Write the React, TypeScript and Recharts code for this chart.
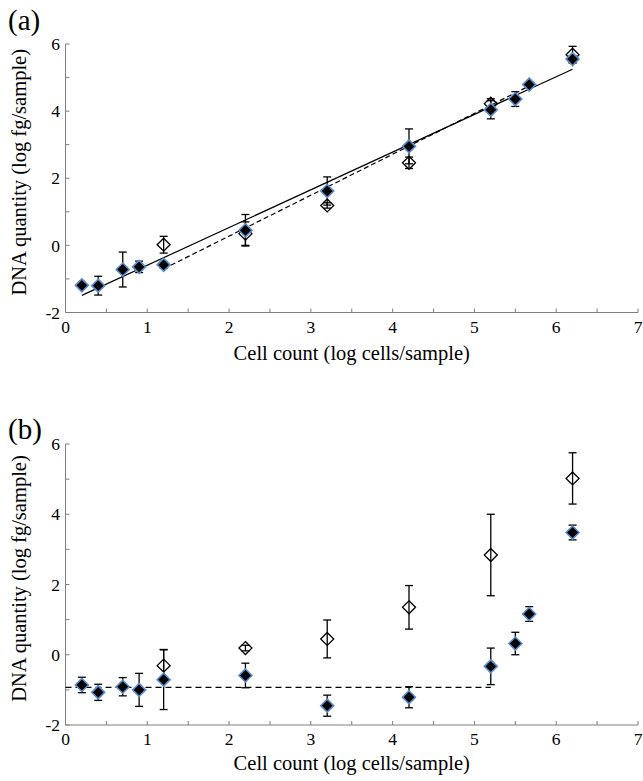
import { ScatterChart, Scatter, XAxis, YAxis, ErrorBar, Label } from "recharts";

// ── Data ──────────────────────────────────────────────────────────────────────
// x positions (log cells/sample)
const filledX = [0.2, 0.4, 0.7, 0.9, 1.2, 2.2, 3.2, 4.2, 5.2, 5.5, 5.67, 6.2];
const openX = [1.2, 2.2, 3.2, 4.2, 5.2, 6.2];

// panel (a)
const aFilledY = [-1.19, -1.2, -0.72, -0.64, -0.58, 0.45, 1.62, 2.95, 4.04, 4.36, 4.79, 5.55];
const aFilledErr = [0, 0.28, 0.52, 0.17, 0.1, 0.47, 0.42, 0.52, 0.27, 0.22, 0.08, 0.1];
const aOpenY = [0.02, 0.35, 1.19, 2.46, 4.22, 5.68];
const aOpenErr = [0.25, 0.35, 0.08, 0.17, 0.15, 0.25];
const aFitSolid = [
    { x: 0.2, y: -1.49 },
    { x: 6.2, y: 5.25 },
];
const aFitDashed = [
    { x: 1.2, y: -0.7 },
    { x: 5.67, y: 4.75 },
];

// panel (b)
const bFilledY = [-0.86, -1.07, -0.91, -1.0, -0.71, -0.59, -1.45, -1.21, -0.33, 0.32, 1.16, 3.48];
const bFilledErr = [0.22, 0.23, 0.26, 0.47, 0.85, 0.35, 0.3, 0.3, 0.52, 0.32, 0.21, 0.21];
const bOpenY = [-0.31, 0.19, 0.45, 1.35, 2.84, 5.02];
const bOpenErr = [0.46, 0.08, 0.54, 0.62, 1.16, 0.73];
const bBaseline = [
    { x: 0, y: -0.93 },
    { x: 5.2, y: -0.93 },
];

// axes
const xTicks = [0, 0.5, 1, 1.5, 2, 2.5, 3, 3.5, 4, 4.5, 5, 5.5, 6, 6.5, 7];
const yTicks = [-2, -1, 0, 1, 2, 3, 4, 5, 6];
const xLabel = "Cell count (log cells/sample)";
const yLabel = "DNA quantity (log fg/sample)";

// ── Styles ────────────────────────────────────────────────────────────────────
const serif = "Liberation Serif, DejaVu Serif, serif";
const axisGray = "#7f7f7f";
const outlineBlue = "#5a8dcc";

const toPoints = (xs: number[], ys: number[], errs: number[]) =>
    xs.map((x, i) => ({ x, y: ys[i], e: errs[i] }));

function FilledDiamond({ cx, cy }: any) {
    const r = 6.5;
    return (
        <path
            d={`M${cx},${cy - r}L${cx + r},${cy}L${cx},${cy + r}L${cx - r},${cy}Z`}
            fill="#000"
            stroke={outlineBlue}
            strokeWidth={1.6}
        />
    );
}

function OpenDiamond({ cx, cy }: any) {
    const r = 6.5;
    return (
        <path
            d={`M${cx},${cy - r}L${cx + r},${cy}L${cx},${cy + r}L${cx - r},${cy}Z`}
            fill="none"
            stroke="#000"
            strokeWidth={1.3}
        />
    );
}

const NoDot = () => <g />;

type Fit = { data: { x: number; y: number }[]; dash?: string };

function Panel({
    height,
    bottom,
    labelOffset,
    tickGap,
    filled,
    open,
    fits,
}: {
    height: number;
    bottom: number;
    labelOffset: number;
    tickGap: number;
    filled: { x: number; y: number; e: number }[];
    open: { x: number; y: number; e: number }[];
    fits: Fit[];
}) {
    return (
        <ScatterChart
            width={643}
            height={height}
            margin={{ top: 44, right: 5, bottom, left: 0 }}
            style={{ fontFamily: serif }}
        >
            <XAxis
                type="number"
                dataKey="x"
                domain={[0, 7]}
                ticks={xTicks}
                interval={0}
                tickFormatter={(v: number) => (Number.isInteger(v) ? String(v) : "")}
                stroke={axisGray}
                tickSize={-4}
                tickMargin={tickGap}
                height={30}
                tick={{ fill: "#000", fontSize: 17.5, fontFamily: serif }}
            >
                <Label
                    value={xLabel}
                    position="bottom"
                    offset={labelOffset}
                    fill="#000"
                    fontSize={20.5}
                    fontFamily={serif}
                />
            </XAxis>
            <YAxis
                type="number"
                dataKey="y"
                domain={[-2, 6]}
                ticks={yTicks}
                interval={0}
                tickFormatter={(v: number) => (v % 2 === 0 ? String(v) : "")}
                stroke={axisGray}
                tickSize={-4}
                tickMargin={9.5}
                width={65.5}
                tick={{ fill: "#000", fontSize: 17.5, fontFamily: serif }}
            >
                <Label
                    value={yLabel}
                    position="center"
                    angle={-90}
                    dx={-14}
                    dy={-6}
                    fill="#000"
                    fontSize={20.5}
                    fontFamily={serif}
                />
            </YAxis>
            {fits.map((f, i) => (
                <Scatter
                    key={i}
                    data={f.data}
                    fill="#000"
                    line={{ stroke: "#000", strokeWidth: 1.2, strokeDasharray: f.dash }}
                    shape={NoDot}
                    legendType="none"
                    isAnimationActive={false}
                />
            ))}
            <Scatter data={open} shape={OpenDiamond} isAnimationActive={false}>
                <ErrorBar dataKey="e" direction="y" width={4} stroke="#000" strokeWidth={1.3} />
            </Scatter>
            <Scatter data={filled} shape={FilledDiamond} isAnimationActive={false}>
                <ErrorBar dataKey="e" direction="y" width={4} stroke="#000" strokeWidth={1.3} />
            </Scatter>
        </ScatterChart>
    );
}

const tagStyle: React.CSSProperties = {
    position: "absolute",
    left: 8,
    fontFamily: serif,
    fontSize: 29,
    lineHeight: "29px",
    color: "#000",
};

export default function App() {
    return (
        <div
            style={{
                position: "absolute",
                left: 0,
                top: 0,
                width: 643,
                height: 781,
                background: "#fff",
                overflow: "hidden",
                fontFamily: serif,
            }}
        >
            <div style={{ position: "absolute", left: 0, top: 0 }}>
                <Panel
                    height={400}
                    bottom={57.5}
                    labelOffset={3}
                    tickGap={11.7}
                    filled={toPoints(filledX, aFilledY, aFilledErr)}
                    open={toPoints(openX, aOpenY, aOpenErr)}
                    fits={[{ data: aFitSolid }, { data: aFitDashed, dash: "5 3" }]}
                />
            </div>
            <div style={{ position: "absolute", left: 0, top: 400 }}>
                <Panel
                    height={381}
                    bottom={26}
                    labelOffset={0}
                    tickGap={12}
                    filled={toPoints(filledX, bFilledY, bFilledErr)}
                    open={toPoints(openX, bOpenY, bOpenErr)}
                    fits={[{ data: bBaseline, dash: "6 4" }]}
                />
            </div>
            <div style={{ ...tagStyle, top: 6 }}>(a)</div>
            <div style={{ ...tagStyle, top: 415 }}>(b)</div>
        </div>
    );
}
